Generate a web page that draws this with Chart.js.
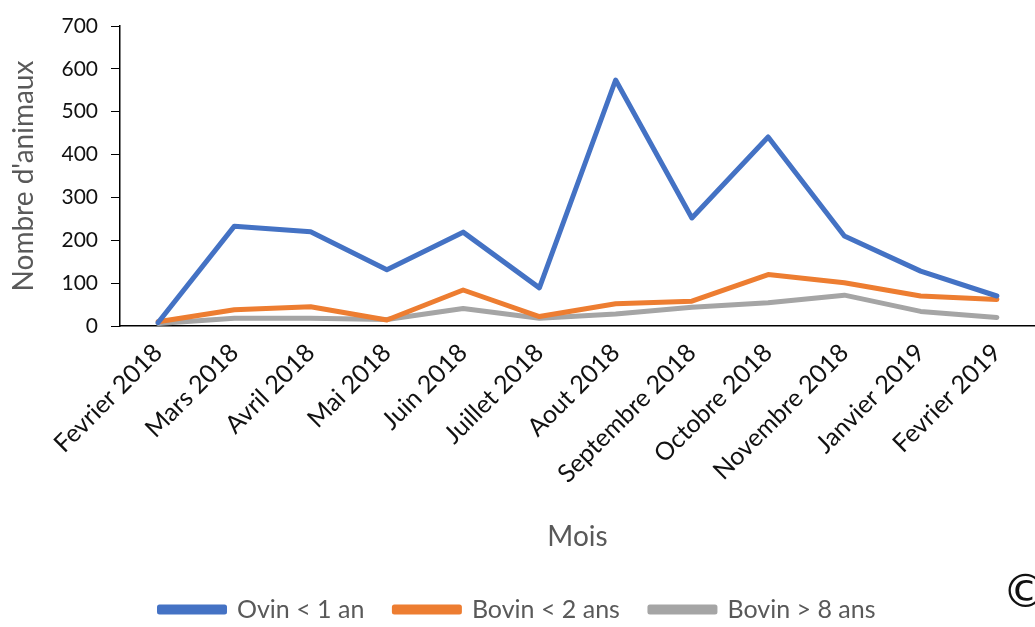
<!DOCTYPE html>
<html lang="fr">
<head>
  <meta charset="UTF-8">
  <script src="https://cdn.jsdelivr.net/npm/chart.js"></script>
  <style>
    body { margin: 0; background: #fff; }
    .wrap { position: relative; width: 1035px; height: 627px; overflow: hidden; }
    #copy {
      position: absolute; left: 1002px; top: 563px;
      font-family: 'DejaVu Sans', sans-serif; font-size: 47px; color: #111;
    }
  </style>
</head>
<body>
  <div class="wrap">
    <canvas id="chart" width="1035" height="627"></canvas>
    <div id="copy">©</div>
  </div>
  <script>
    const months = ['Fevrier 2018', 'Mars 2018', 'Avril 2018', 'Mai 2018', 'Juin 2018', 'Juillet 2018',
      'Aout 2018', 'Septembre 2018', 'Octobre 2018', 'Novembre 2018', 'Janvier 2019', 'Fevrier 2019'];
    const ovinMoins1 = [8, 233, 220, 131, 219, 89, 574, 252, 441, 210, 128, 70];
    const bovinMoins2 = [10, 38, 45, 14, 84, 22, 52, 58, 120, 101, 70, 62];
    const bovinPlus8 = [6, 18, 18, 15, 41, 18, 28, 44, 54, 72, 34, 20];
    const yTicks = [0, 100, 200, 300, 400, 500, 600, 700];

    const font = "Lato, 'Open Sans', sans-serif";

    new Chart(document.getElementById('chart'), {
      type: 'line',
      data: {
        labels: months,
        datasets: [
          { label: 'Ovin < 1 an', data: ovinMoins1, borderColor: '#4472C4', backgroundColor: '#4472C4' },
          { label: 'Bovin < 2 ans', data: bovinMoins2, borderColor: '#ED7D31', backgroundColor: '#ED7D31' },
          { label: 'Bovin > 8 ans', data: bovinPlus8, borderColor: '#A5A5A5', backgroundColor: '#A5A5A5' }
        ]
      },
      options: {
        responsive: false,
        animation: false,
        layout: { padding: { top: 26, right: 0, left: 0, bottom: 0 } },
        elements: {
          line: { borderWidth: 5, tension: 0, borderJoinStyle: 'round', borderCapStyle: 'round' },
          point: { radius: 0 }
        },
        scales: {
          x: {
            offset: true,
            grid: { display: false, offset: true },
            border: { display: true, color: '#000', width: 1.5 },
            ticks: {
              color: '#111', font: { family: font, size: 25 },
              minRotation: 45, maxRotation: 45, autoSkip: false, padding: 4
            },
            title: {
              display: true, text: 'Mois', color: '#595959',
              font: { family: font, size: 28 }, padding: { top: 0, bottom: 13 }
            },
            afterFit: scale => { scale.height = 241; }
          },
          y: {
            min: 0, max: 700,
            afterBuildTicks: scale => { scale.ticks = yTicks.map(v => ({ value: v })); },
            grid: { display: true, drawOnChartArea: false, drawTicks: true, tickLength: 9, color: '#000' },
            border: { display: true, color: '#000', width: 1.5 },
            ticks: { color: '#111', font: { family: font, size: 21 }, padding: 13 },
            title: {
              display: true, text: "Nombre d'animaux", color: '#595959',
              font: { family: font, size: 28 }, padding: { top: 7, bottom: 0 }
            },
            afterFit: scale => { scale.width = 120; }
          }
        },
        plugins: {
          legend: {
            position: 'bottom',
            maxHeight: 60,
            labels: {
              color: '#595959', font: { family: font, size: 25 },
              boxWidth: 65, boxHeight: 5, padding: 30
            }
          },
          tooltip: { enabled: false }
        }
      }
    });
  </script>
</body>
</html>
